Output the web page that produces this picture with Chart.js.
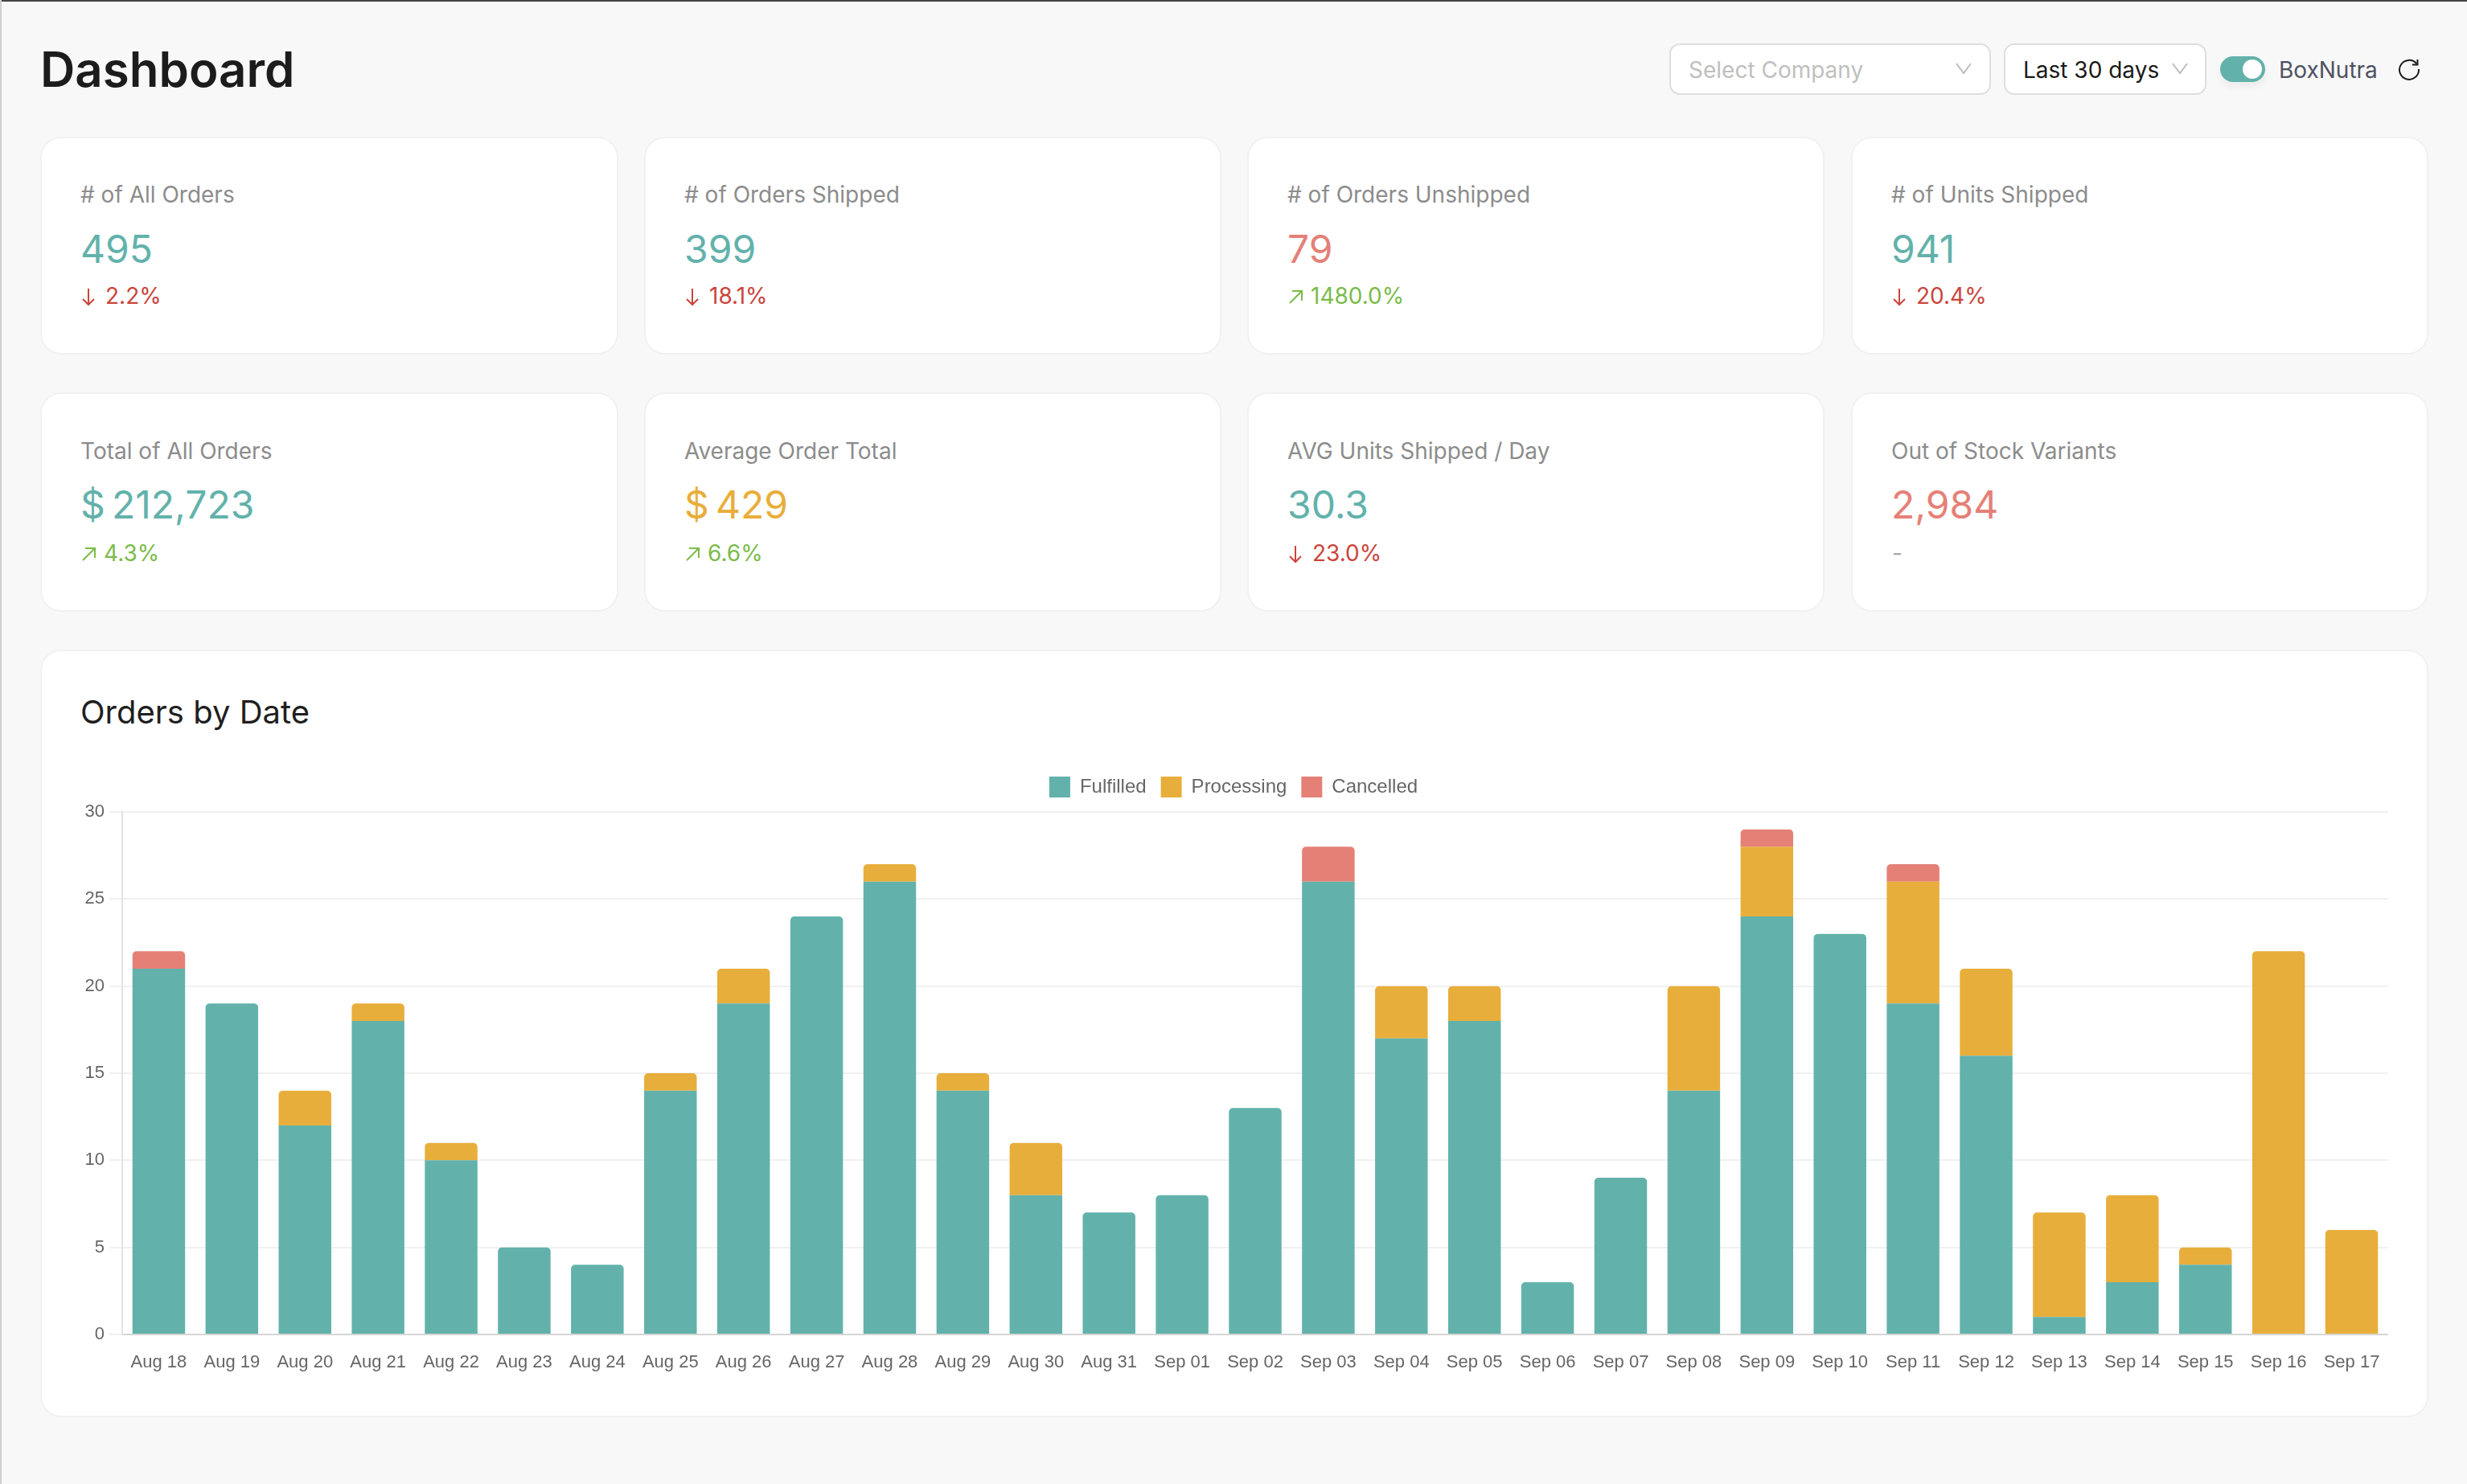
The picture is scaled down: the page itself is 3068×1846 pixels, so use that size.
<!DOCTYPE html>
<html>
<head>
<meta charset="utf-8">
<title>Dashboard</title>
<script src="https://cdn.jsdelivr.net/npm/chart.js@4/dist/chart.umd.min.js"></script>
<style>
html,body{margin:0;padding:0;background:#f8f8f8;width:3068px;height:1846px;overflow:hidden;font-family:Inter,sans-serif}
#stage{position:relative;width:3068px;height:1846px;overflow:hidden}
.abs{position:absolute}
.txt{position:absolute;white-space:nowrap}
.card{position:absolute;box-sizing:border-box;background:#fff;border:2px solid #f1f1f1;border-radius:26px}
.sel{position:absolute;box-sizing:border-box;background:#fff;border:2px solid #dedede;border-radius:13px}
#chartWrap{position:absolute;left:98px;top:938px;width:2872px;height:781px}
</style>
</head>
<body>
<div id="stage">
  <div class="abs" style="left:0;top:0;width:3068px;height:2px;background:#444"></div>
  <div class="abs" style="left:0;top:0;width:2px;height:1846px;background:#cfcfcf"></div>
  <div class="card" style="left:50px;top:808px;width:2970px;height:955px"></div>
  <div id="chartWrap"><canvas id="c" width="2872" height="781"></canvas></div>
</div>
<script>
const categories = ["Aug 18","Aug 19","Aug 20","Aug 21","Aug 22","Aug 23","Aug 24","Aug 25","Aug 26","Aug 27","Aug 28","Aug 29","Aug 30","Aug 31","Sep 01","Sep 02","Sep 03","Sep 04","Sep 05","Sep 06","Sep 07","Sep 08","Sep 09","Sep 10","Sep 11","Sep 12","Sep 13","Sep 14","Sep 15","Sep 16","Sep 17"];
const fulfilled  = [21,19,12,18,10,5,4,14,19,24,26,14,8,7,8,13,26,17,18,3,9,14,24,23,19,16,1,3,4,0,0];
const processing = [0,0,2,1,1,0,0,1,2,0,1,1,3,0,0,0,0,3,2,0,0,6,4,0,7,5,6,5,1,22,6];
const cancelled  = [1,0,0,0,0,0,0,0,0,0,0,0,0,0,0,0,2,0,0,0,0,0,1,0,1,0,0,0,0,0,0];
const seriesNames = ["Fulfilled","Processing","Cancelled"];

const TEAL="#62b2ab", AMBER="#e8ae3b", RED="#e58077", GREEN="#7bbb4a", DOWN="#cb453c";
const kpiLabels = ["# of All Orders","# of Orders Shipped","# of Orders Unshipped","# of Units Shipped","Total of All Orders","Average Order Total","AVG Units Shipped / Day","Out of Stock Variants"];
const kpiValues = ["495","399","79","941","212,723","429","30.3","2,984"];
const kpiPrefix = ["","","","","$","$","",""];
const kpiColors = [TEAL,TEAL,RED,TEAL,TEAL,AMBER,TEAL,RED];
const kpiDeltas = ["2.2%","18.1%","1480.0%","20.4%","4.3%","6.6%","23.0%","-"];
const kpiTrends = ["down","down","up","down","up","up","down","none"];

const stage=document.getElementById('stage');
function text(str,x,base,size,color,weight){
  const e=document.createElement('div');e.className='txt';e.textContent=str;
  const lh=Math.round(size*1.4);
  e.style.cssText=`left:${x}px;top:${(base-lh/2-0.364*size).toFixed(1)}px;font-size:${size}px;line-height:${lh}px;color:${color};font-weight:${weight||400}`;
  stage.appendChild(e);return e;
}
function svg(x,y,w,h,inner){
  const d=document.createElement('div');d.className='abs';d.style.cssText=`left:${x}px;top:${y}px;width:${w}px;height:${h}px`;
  d.innerHTML=`<svg width="${w}" height="${h}" viewBox="0 0 ${w} ${h}" fill="none">${inner}</svg>`;
  stage.appendChild(d);
}
const colX=[52,803,1553,2304], colW=[715,714,714,714];
const rows=[{top:172,h:267,label:253,val:327,delta:379},{top:490,h:269,label:572,val:645,delta:699}];
kpiLabels.forEach((lab,i)=>{
  const r=rows[Math.floor(i/4)], x=colX[i%4];
  const c=document.createElement('div');c.className='card';
  c.style.cssText=`left:${x-2}px;top:${r.top-2}px;width:${colW[i%4]+4}px;height:${r.h+4}px`;stage.appendChild(c);
  const tx=x+48;
  text(lab,tx,r.label,28,'#8c8c8c');
  let vx=tx;
  if(kpiPrefix[i]){ text(kpiPrefix[i],vx,r.val,48,kpiColors[i]); vx+=39; }
  text(kpiValues[i],vx,r.val,48,kpiColors[i]);
  const t=kpiTrends[i], dy=r.delta;
  if(t==='down'){
    svg(tx+1,dy-21,20,23,`<path d="M9 1V21M2 14L9 21L16 14" stroke="${DOWN}" stroke-width="2"/>`);
    text(kpiDeltas[i],tx+31,dy,28,DOWN);
  }else if(t==='up'){
    svg(tx+1,dy-19,20,20,`<path d="M2 17L17 2M5 2H17V14" stroke="${GREEN}" stroke-width="2"/>`);
    text(kpiDeltas[i],tx+29,dy,28,GREEN);
  }else{
    text(kpiDeltas[i],tx+1,dy,28,'#a6a6a6');
  }
});
text("Dashboard",50,108,60,'#1c1c1c',600);
text("Orders by Date",100,901,40,'#1f1f1f',400);

function box(x,y,w,h){const b=document.createElement('div');b.className='sel';b.style.cssText=`left:${x}px;top:${y}px;width:${w}px;height:${h}px`;stage.appendChild(b);}
box(2076,54,400,64); box(2492,54,252,64);
text("Select Company",2100,98,28,'#bfbfbf');
text("Last 30 days",2516,98,28,'#1a1a1a');
svg(2432,77,20,16,`<path d="M1 2L10 14L19 2" stroke="#bdbdbd" stroke-width="2"/>`);
svg(2701,77,20,16,`<path d="M1 2L10 14L19 2" stroke="#bdbdbd" stroke-width="2"/>`);
const tg=document.createElement('div');tg.className='abs';
tg.style.cssText=`left:2761px;top:70px;width:56px;height:32px;border-radius:16px;background:${TEAL};box-shadow:0 6px 10px rgba(0,0,0,.05)`;
tg.innerHTML='<div style="position:absolute;left:28px;top:4px;width:24px;height:24px;border-radius:50%;background:#fff"></div>';
stage.appendChild(tg);
text("BoxNutra",2834,98,28,'#4f5263');
svg(2982,72,28,28,`<path d="M23.5 7.5A12 12 0 1 0 26 14" stroke="#1c1c1c" stroke-width="2"/><path d="M24.5 2V8.5H18" stroke="#1c1c1c" stroke-width="2"/>`);

const FONT='"Liberation Sans", Helvetica, Arial, sans-serif';
const legendGap={id:'legendGap',beforeUpdate(chart){
  const l=chart.legend;
  if(l && !l._gapPatched){ const fit=l.fit; l.fit=function(){fit.call(this);this.height=62;}; l._gapPatched=true; }
}};
new Chart(document.getElementById('c'),{
  type:'bar',
  plugins:[legendGap],
  data:{labels:categories,datasets:[
    {label:seriesNames[0],data:fulfilled,backgroundColor:TEAL,borderWidth:0,borderRadius:5},
    {label:seriesNames[1],data:processing,backgroundColor:AMBER,borderWidth:0,borderRadius:5},
    {label:seriesNames[2],data:cancelled,backgroundColor:RED,borderWidth:0,borderRadius:5}
  ]},
  options:{
    responsive:false,animation:false,devicePixelRatio:1,
    layout:{padding:0},
    plugins:{
      tooltip:{enabled:false},
      legend:{position:'top',labels:{boxWidth:26,boxHeight:26,padding:18,color:'#666',font:{family:FONT,size:24}}}
    },
    scales:{
      x:{stacked:true,
        grid:{display:false},
        border:{display:true,color:'#d6d6d6',width:2},
        ticks:{color:'#666',font:{family:FONT,size:22},padding:14,maxRotation:0,autoSkip:false},
        afterFit(s){s.height=59;s.paddingLeft=0;s.paddingRight=0;}
      },
      y:{stacked:true,min:0,max:30,
        grid:{color:'#f0f0f0',lineWidth:2,tickLength:16},
        border:{color:'#e3e3e3',width:2},
        ticks:{stepSize:5,color:'#666',font:{family:FONT,size:22},padding:6},
        afterFit(s){s.width=54;s.paddingTop=72;s.paddingBottom=0;}
      }
    }
  }
});
</script>
</body>
</html>
